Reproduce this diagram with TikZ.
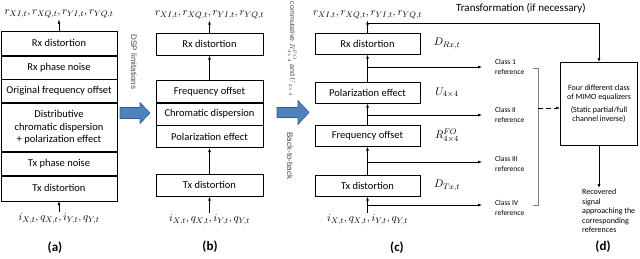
\documentclass[tikz,border=0pt]{standalone}
\usepackage{fontspec}
\setmainfont{Carlito}
\newfontfamily\arialf{Liberation Sans}
\usetikzlibrary{arrows.meta,calc}
\definecolor{bfill}{RGB}{79,129,189}
\definecolor{bdraw}{RGB}{56,93,138}
\definecolor{rotgray}{RGB}{70,70,70}
\begin{document}
\begin{tikzpicture}[x=1pt,y=-1pt,
  box/.style={draw=black,line width=0.7pt,minimum height=#1,inner sep=1pt,
    font=\fontsize{10.5}{12.5}\selectfont,anchor=north,align=center},
  box/.default=22,
  boxa/.style={box=#1,minimum width=116},
  boxb/.style={box=22,minimum width=107},
  boxc/.style={box=21,minimum width=105},
  lab/.style={inner sep=1.5pt,font=\fontsize{11}{13}\selectfont},
  side/.style={inner sep=1pt,font=\fontsize{11}{13}\selectfont},
  plab/.style={inner sep=1pt,font=\fontsize{13}{15}\selectfont\bfseries},
  arr/.style={-{Latex[length=4pt,width=3pt]},line width=0.6pt},
  cls/.style={anchor=west,inner sep=1pt,align=left,font=\fontsize{7.5}{9.5}\selectfont},
  rot/.style={rotate=-90,inner sep=1pt,text=rotgray,font=\arialf\fontsize{8}{9}\selectfont},
  barrow/.style={fill=bfill,draw=bdraw,line width=0.6pt,line join=miter}
]
\useasboundingbox (0,0) rectangle (640,258);

% ---------- panel (a)
\node[boxa=24] (a1) at (59,31) {Rx distortion};
\node[boxa=23] (a2) at (a1.south) {Rx phase noise};
\node[boxa=23] (a3) at (a2.south) {Original frequency offset};
\node[boxa=48] (a4) at (a3.south) {Distributive\\chromatic dispersion\\+ polarization effect};
\node[boxa=23] (a5) at (a4.south) {Tx phase noise};
\node[boxa=25] (a6) at (a5.south) {Tx distortion};
\node[lab] (outa) at (59,14) {$r_{XI,t},r_{XQ,t},r_{YI,t},r_{YQ,t}$};
\node[lab] (ina) at (59,219) {$i_{X,t},q_{X,t},i_{Y,t},q_{Y,t}$};
\draw[arr] (a1.north) -- (outa.south);
\draw[arr] (ina.north) -- (a6.south);
\node[plab] (la) at (55,248) {(a)};

\node[rot] (dsp) at (134,62) {DSP limitations};
\filldraw[barrow] (120,107.5) -- (140,107.5) -- (140,102.5) -- (150,113) -- (140,123.5) -- (140,118.5) -- (120,118.5) -- cycle;

% ---------- panel (b)
\node[boxb] (b1) at (209.5,33) {Rx distortion};
\node[boxb] (b2) at (209.5,80) {Frequency offset};
\node[boxb] (b3) at (b2.south) {Chromatic dispersion};
\node[boxb] (b4) at (b3.south) {Polarization effect};
\node[boxb] (b5) at (209.5,174) {Tx distortion};
\node[lab] (outb) at (209.5,15) {$r_{XI,t},r_{XQ,t},r_{YI,t},r_{YQ,t}$};
\node[lab] (inb) at (209.5,220) {$i_{X,t},q_{X,t},i_{Y,t},q_{Y,t}$};
\draw[arr] (b1.north) -- (outb.south);
\draw[arr] (b2.north) -- (b1.south);
\draw[arr] (b5.north) -- (b4.south);
\draw[arr] (inb.north) -- (b5.south);
\node[plab] (lb) at (210,247) {(b)};

\node[rot,font=\arialf\fontsize{7}{8}\selectfont] (comm) at (292,49) {commutative $R^{FO}_{4\times4}$ and $U_{4\times4}$};
\node[rot] (b2b) at (290,156) {Back-to-back};
\filldraw[barrow] (277,107.5) -- (298,107.5) -- (298,100.5) -- (309,112.5) -- (298,124.5) -- (298,117.5) -- (277,117.5) -- cycle;

% ---------- panel (c)
\node[boxc] (c1) at (367.5,33) {Rx distortion};
\node[boxc] (c2) at (367.5,82) {Polarization effect};
\node[boxc] (c3) at (367.5,125) {Frequency offset};
\node[boxc] (c4) at (367.5,175) {Tx distortion};
\node[lab] (outc) at (367.5,15) {$r_{XI,t},r_{XQ,t},r_{YI,t},r_{YQ,t}$};
\node[lab] (inc) at (367.5,220) {$i_{X,t},q_{X,t},i_{Y,t},q_{Y,t}$};
\draw[arr] (c1.north) -- (outc.south);
\draw[arr] (c2.north) -- (c1.south);
\draw[arr] (c3.north) -- (c2.south);
\draw[arr] (c4.north) -- (c3.south);
\draw[arr] (inc.north) -- (c4.south);
\node[plab] (lc) at (397,248) {(c)};

\node[side] (dr) at (447,43.5) {$D_{Rx,t}$};
\node[side] (u4) at (447,92.5) {$U_{4\times4}$};
\node[side] (rf) at (447,135.5) {$R_{4\times4}^{FO}$};
\node[side] (dt) at (447,185.5) {$D_{Tx,t}$};

% class references
\node[cls] (k1) at (494,67) {Class 1\\reference};
\node[cls] (k2) at (494,115) {Class II\\reference};
\node[cls] (k3) at (494,164) {Class III\\reference};
\node[cls] (k4) at (494,208) {Class IV\\reference};

% ---------- panel (d)
\node[draw=black,line width=1pt,minimum width=77,minimum height=83,anchor=north west,
  align=center,inner sep=1pt,font=\fontsize{8}{9}\selectfont] (mimo) at (560,62)
  {Four different class\\of MIMO equalizers\\[4pt](Static partial/full\\channel inverse)};
\node[anchor=north west,align=left,inner sep=1pt,font=\fontsize{8}{9.5}\selectfont] (rec) at (581,188)
  {Recovered\\signal\\approaching the\\corresponding\\references};
\node[plab] (ld) at (603,247) {(d)};
\node[inner sep=1pt,font=\fontsize{11}{13}\selectfont] (trans) at (521,8) {Transformation (if necessary)};

\coordinate (j0) at (367.5,23);
\draw[arr] (j0) -| (mimo.north);
\draw[arr,shorten >=12pt] (c2.north |- k1.west) -- (k1.west);
\draw[arr,shorten >=12pt] (c3.north |- 0,115) -- (k2.west |- 0,115);
\draw[arr,shorten >=12pt] (c4.north |- 0,162) -- (k3.west |- 0,162);
\draw[arr,shorten >=12pt] (inc.north |- 0,205) -- (k4.west |- 0,205);

\draw[line width=0.5pt,draw=gray] (533,68) -- (538,68) -- (538,205) -- (533,205);
\coordinate (bm) at (538,108);
\draw[arr,dashed,dash pattern=on 5pt off 3pt] (bm) -- (bm -| mimo.west);
\draw[arr] (mimo.south) -- (mimo.south |- rec.north);
\end{tikzpicture}
\end{document}
